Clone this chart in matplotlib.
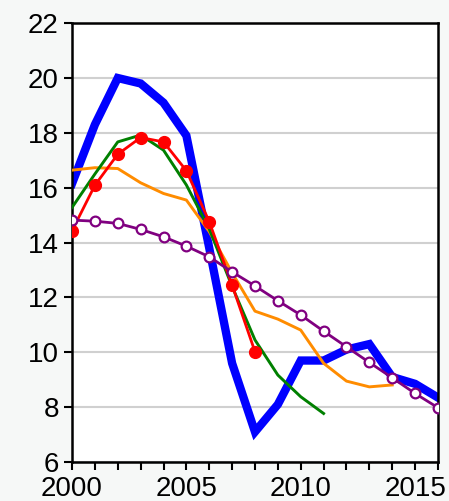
import matplotlib
matplotlib.use("Agg")
import matplotlib.pyplot as plt
import numpy as np

plt.rcParams['font.family'] = ['Liberation Sans', 'DejaVu Sans']

# Data
years = np.arange(2000, 2017)
blue = [16.15, 18.3, 20.0, 19.8, 19.1, 17.9, 13.8, 9.6, 7.1, 8.1, 9.7, 9.7, 10.1, 10.3, 9.1, 8.85, 8.35]
red_years = np.arange(2000, 2009)
red = [14.43, 16.09, 17.22, 17.83, 17.67, 16.62, 14.76, 12.45, 10.02]
green_years = np.arange(2000, 2012)
green = [15.28, 16.5, 17.67, 17.92, 17.37, 16.1, 14.5, 12.4, 10.45, 9.17, 8.38, 7.77]
orange_years = np.arange(2000, 2015)
orange = [16.64, 16.73, 16.7, 16.18, 15.79, 15.55, 14.4, 12.9, 11.5, 11.21, 10.81, 9.6, 8.95, 8.74, 8.81]
purple = [14.82, 14.78, 14.7, 14.48, 14.21, 13.87, 13.48, 12.93, 12.42, 11.88, 11.36, 10.77, 10.2, 9.63, 9.07, 8.5, 7.98]

fig = plt.figure(figsize=(4.49, 5.01), dpi=100, facecolor='#f6f8f7')
ax = fig.add_axes([0.1604, 0.0778, 0.815, 0.876])
ax.set_facecolor('white')

ax.plot(years, blue, color='#0000ff', lw=6, solid_joinstyle='miter', zorder=2)
ax.plot(orange_years, orange, color='#ff8c00', lw=2.1, zorder=3)
ax.plot(green_years, green, color='#008000', lw=2.1, zorder=4)
ax.plot(red_years, red, color='#ff0000', lw=2, marker='o', ms=8.5, zorder=5)
ax.plot(years, purple, color='#800080', lw=2, marker='o', ms=7,
        markerfacecolor='white', markeredgewidth=1.6, zorder=6)

ax.set_xlim(2000, 2016)
ax.set_ylim(6, 22)
ax.set_yticks(np.arange(6, 23, 2))
ax.set_xticks([2000, 2005, 2010, 2015])
ax.set_xticks(np.arange(2000, 2017), minor=True)
ax.grid(True, axis='y', color='#d0d0d0', lw=1.5)
ax.set_axisbelow(True)

ax.tick_params(axis='both', labelsize=20, direction='out', width=1.5, length=6, colors='black')
ax.tick_params(axis='x', which='minor', width=1.5, length=6)
ax.tick_params(axis='x', pad=4)
for s in ax.spines.values():
    s.set_linewidth(1.8)

fig.savefig('out.png', dpi=100, facecolor=fig.get_facecolor())
